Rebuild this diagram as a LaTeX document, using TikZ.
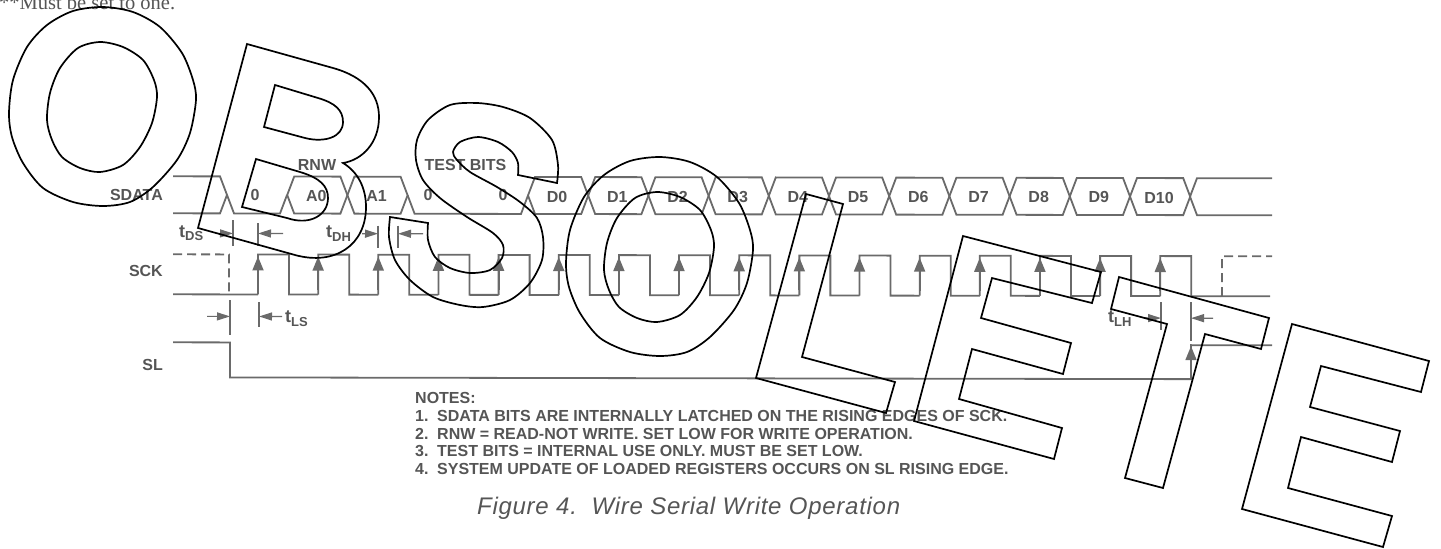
\documentclass[tikz,border=0pt]{standalone}
\usepackage{fontspec}
\setmainfont{Liberation Sans}
\newfontfamily\serifcap{Liberation Serif}
\usepackage{tikz}
\usetikzlibrary{positioning,arrows.meta}
\definecolor{inkgray}{HTML}{555555}
\definecolor{wiregray}{HTML}{6A6A6A}
\newcommand{\tmark}[1]{{\fontsize{18}{18}\selectfont t}\raisebox{-3.5pt}{\fontsize{13}{13}\selectfont #1}}
\newcommand{\noteline}[2]{\makebox[22pt][l]{#1}#2}
\begin{document}
\begin{tikzpicture}[x=1pt,y=-1pt,
    wire/.style={draw=wiregray,line width=1.8pt},
    dashwire/.style={wire,dash pattern=on 9pt off 5pt},
    tick/.style={draw=wiregray,line width=1.2pt},
    dim/.style={draw=wiregray,line width=1.2pt,-{Triangle[length=13pt,width=8pt]}},
    edgemark/.style={draw=wiregray,line width=1.8pt,-{Triangle[length=14pt,width=11pt]}},
    sig/.style={font=\bfseries\fontsize{16}{18}\selectfont,text=inkgray,inner sep=0pt},
    note/.style={sig,text height=11pt,text depth=3pt},
    ghost/.style={draw=black,line width=1.7pt,line join=miter}]
    \useasboundingbox (0,0) rectangle (1441,549);
    \node[anchor=base west,inner sep=0pt,text=inkgray,font=\serifcap\fontsize{20.5}{22}\selectfont] (topnote) at (-1,9) {**Must be set to one.};
    \begin{scope}[yslant=-0.0018]
        \def\dtop{176}\def\dbot{213}\def\dmid{194.5}
        \def\clkhi{254}\def\clklo{294}
        \draw[wire] (173,\dtop) -- (220,\dtop) -- (227,\dmid) -- (220,\dbot) -- (173,\dbot);
        \draw[wire] (227,\dmid) -- (234,\dbot) -- (280,\dbot) -- (287,\dmid);
        \draw[wire] (407.6,\dmid) -- (414.6,\dbot) -- (521,\dbot) -- (528,\dmid);
        \draw[wire] (1272,\dtop) -- (1197,\dtop) -- (1190,\dmid) -- (1197,\dbot) -- (1272,\dbot);
        \foreach \i/\bit in {1/A0,2/A1,5/D0,6/D1,7/D2,8/D3,9/D4,10/D5,11/D6,12/D7,13/D8,14/D9,15/D10} {
            \pgfmathsetmacro{\xa}{227+60.2*\i}
            \pgfmathsetmacro{\xb}{\xa+60.2}
            \draw[wire] (\xa,\dmid) -- (\xa+7,\dtop) -- (\xb-7,\dtop) -- (\xb,\dmid) -- (\xb-7,\dbot) -- (\xa+7,\dbot) -- cycle;
            \node[sig] (bit\i) at ({(\xa+\xb)/2-1},\dmid+1) {\bit};
        }
        \node[sig] (rnwbit) at (255,\dmid) {0};
        \node[sig] (testa) at (428,\dmid) {0};
        \node[sig] (testb) at (503,\dmid) {0};
        \node[sig,anchor=east] (sdata) at (163,\dmid) {SDATA};
        \node[sig,anchor=east] (sck) at (163,271) {SCK};
        \node[sig,anchor=east] (sl) at (163,365) {SL};
        \node[sig] (rnw) at (317,164) {RNW};
        \node[sig] (testbits) at (465.5,164) {TEST BITS};
        \draw[wire] (173,\clklo) -- (258,\clklo);
        \draw[dashwire] (173,\clkhi) -- (229,\clkhi) -- (229,\clklo);
        \foreach \i in {0,...,15} {
            \pgfmathsetmacro{\xr}{258+60.15*\i}
            \draw[wire] (\xr,\clklo) -- (\xr,\clkhi) -- (\xr+31,\clkhi) -- (\xr+31,\clklo) -- (\xr+60.15,\clklo);
            \draw[edgemark] (\xr,\clklo-5) -- (\xr,\clkhi+2);
        }
        \draw[wire] (1220,\clklo) -- (1270,\clklo);
        \draw[dashwire] (1222,\clklo) -- (1222,\clkhi) -- (1272,\clkhi);
        \draw[wire] (173,342) -- (230,342) -- (230,377) -- (1191,377) -- (1191,343) -- (1272,343);
        \draw[edgemark] (1191,372) -- (1191,344);
        \foreach \xt/\ya/\yb/\xs/\yd in {233/220/246/217/233,258/223/246/283/233,378/225/247/362/233,398/225/247/423/233,230/300/335/207/316,259/302/327/282/316,1161/300/328/1145/316,1191/300/339/1213/316} {
            \draw[tick] (\xt,\ya) -- (\xt,\yb);
            \draw[dim] (\xs,\yd) -- (\xt,\yd);
        }
        \node[sig,anchor=base west] (tds) at (179,237) {\tmark{DS}};
        \node[sig,anchor=base west] (tdh) at (326,237) {\tmark{DH}};
        \node[sig,anchor=base west] (tls) at (285,322) {\tmark{LS}};
        \node[sig,anchor=base west] (tlh) at (1108,321) {\tmark{LH}};
    \end{scope}
    \node[note,anchor=north west] (note0) at (415,392.5) {NOTES:};
    \node[note,below=3.3pt of note0.south west,anchor=north west] (note1) {\noteline{1.}{SDATA BITS ARE INTERNALLY LATCHED ON THE RISING EDGES OF SCK.}};
    \node[note,below=3.3pt of note1.south west,anchor=north west] (note2) {\noteline{2.}{RNW = READ-NOT WRITE. SET LOW FOR WRITE OPERATION.}};
    \node[note,below=3.3pt of note2.south west,anchor=north west] (note3) {\noteline{3.}{TEST BITS = INTERNAL USE ONLY. MUST BE SET LOW.}};
    \node[note,below=3.3pt of note3.south west,anchor=north west] (note4) {\noteline{4.}{SYSTEM UPDATE OF LOADED REGISTERS OCCURS ON SL RISING EDGE.}};
    \node[anchor=west,inner sep=0pt,text=inkgray,font=\itshape\fontsize{24}{26}\selectfont\addfontfeature{LetterSpace=3}] (caption) at (477,508) {Figure 4.\ \ Wire Serial Write Operation};
    \foreach \ox/\oy in {0/0,557/150} {
        \begin{scope}[shift={(\ox,\oy)}]
            \draw[ghost] plot[smooth cycle] coordinates {(103,7) (133,12) (160,27) (182,53) (193,80) (196,100) (190,133) (177,160) (153,187) (130,202) (103,206) (73,202) (43,188) (23,163) (12,137) (9,113) (13,80) (27,47) (47,25) (73,11)};
            \draw[ghost] plot[smooth cycle] coordinates {(100,42) (123,47) (143,60) (154,80) (157,97) (152,123) (140,147) (123,165) (100,172) (80,168) (62,157) (52,140) (47,120) (50,93) (60,68) (78,48)};
        \end{scope}
    }
    \draw[ghost] (247,44) -- (333,68) .. controls (365,77) and (379,95) .. (379,117) .. controls (379,143) and (362,160) .. (343,163) .. controls (358,172) and (366,188) .. (366,207) .. controls (366,245) and (335,266) .. (295,255) -- (198,228) -- cycle;
    \draw[ghost] (275,85) -- (318,98) .. controls (335,103) and (343,110) .. (343,122) .. controls (343,137) and (325,143) .. (305,138) -- (264,127) -- cycle;
    \draw[ghost] (256,159) -- (300,172) .. controls (320,178) and (328,186) .. (328,198) .. controls (328,215) and (310,226) .. (287,218) -- (242,207) -- cycle;
    \draw[ghost] plot[smooth] coordinates {(557,183) (558,165) (552,140) (530,118) (503,107) (477,103) (450,105) (428,120) (417,140) (416,160) (423,180) (440,198) (467,217) (493,233) (503,245) (502,258) (490,270) (470,273) (450,268) (435,257) (428,240) (428,223)} -- plot[smooth] coordinates {(390,217) (389,237) (395,260) (410,280) (433,297) (460,305) (483,307) (510,300) (530,283) (542,260) (543,237) (537,218) (520,202) (497,187) (470,172) (457,160) (453,152) (460,142) (478,137) (498,142) (512,152) (518,163) (518,175)} -- cycle;
    \draw[ghost] (806,194) -- (843,204) -- (802,357) -- (895,382) -- (886,413) -- (756,378) -- cycle;
    \draw[ghost] (963,236) -- (1101,272) -- (1092,303) -- (992,278) -- (981,318) -- (1071,343) -- (1063,374) -- (972,349) -- (959,399) -- (1062,428) -- (1054,459) -- (914,421) -- cycle;
    \draw[ghost] (1119,277) -- (1269,318) -- (1261,349) -- (1205,334) -- (1163,488) -- (1125,478) -- (1167,324) -- (1111,309) -- cycle;
    \draw[ghost] (1292,324) -- (1429,361) -- (1421,392) -- (1321,366) -- (1310,407) -- (1400,431) -- (1392,462) -- (1301,437) -- (1288,488) -- (1392,516) -- (1383,547) -- (1242,509) -- cycle;
\end{tikzpicture}
\end{document}
